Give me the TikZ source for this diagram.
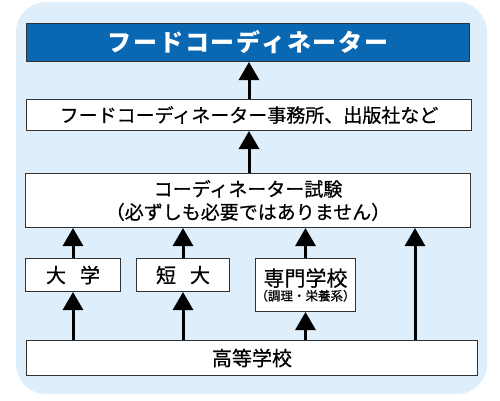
\documentclass[tikz,border=0pt]{standalone}
\usepackage{fontspec}
\setmainfont{Noto Sans CJK JP}
\newfontfamily\medfont{Noto Sans CJK JP}[FakeBold=0.6]
\usetikzlibrary{arrows.meta}
\definecolor{bgblue}{RGB}{222,239,251}
\definecolor{titleblue}{RGB}{10,104,179}
\definecolor{edge}{RGB}{50,50,50}
\begin{document}
\begin{tikzpicture}[x=1pt,y=-1pt,
  box/.style={draw=edge, line width=1pt, fill=white, inner sep=0pt, anchor=north west, align=center},
  up/.style={-{Triangle[width=20pt,length=18pt]}, line width=3pt},
]
\useasboundingbox (0,0) rectangle (500,400);
\fill[bgblue, rounded corners=30pt] (16,2) rectangle (487,394);

\node[box, fill=titleblue, text=white, minimum width=443pt, minimum height=38pt,
  font=\fontsize{24}{28}\selectfont\bfseries\addfontfeature{LetterSpace=8}] (fc) at (26,23) {フードコーディネーター};
\node[box, minimum width=445pt, minimum height=31pt,
  font=\medfont\fontsize{19}{22}\selectfont] (jim) at (26,99) {フードコーディネーター事務所、出版社など};
\node[box, minimum width=445pt, minimum height=54pt,
  font=\medfont\fontsize{19}{23}\selectfont] (shiken) at (25,173) {コーディネーター試験\\（必ずしも必要ではありません）};
\node[box, minimum width=95pt, minimum height=33pt,
  font=\medfont\fontsize{20}{24}\selectfont] (dai) at (25,258) {大\hspace{0.7em}学};
\node[box, minimum width=93pt, minimum height=33pt,
  font=\medfont\fontsize{20}{24}\selectfont] (tan) at (136,258) {短\hspace{0.7em}大};
\node[box, minimum width=95pt, minimum height=53pt, font=\medfont] (sen) at (255,258)
  {{\fontsize{21}{22}\selectfont 専門学校}\\[1pt]{\fontsize{12.5}{13}\selectfont （調理・栄養系）}};
\node[box, minimum width=451pt, minimum height=35pt,
  font=\medfont\fontsize{20}{24}\selectfont] (kou) at (26,340) {高等学校};

\coordinate (right) at (415,0);

\draw[up] (jim.north) -- (fc.south -| jim.north);
\draw[up] (shiken.north -| jim.north) -- (jim.south);
\draw[up] (dai.north) -- (shiken.south -| dai.north);
\draw[up] (tan.north) -- (shiken.south -| tan.north);
\draw[up] (sen.north) -- (shiken.south -| sen.north);
\draw[up] (kou.north -| right) -- (shiken.south -| right);
\draw[up] (kou.north -| dai.south) -- (dai.south);
\draw[up] (kou.north -| tan.south) -- (tan.south);
\draw[up] (kou.north -| sen.south) -- (sen.south);
\end{tikzpicture}
\end{document}
